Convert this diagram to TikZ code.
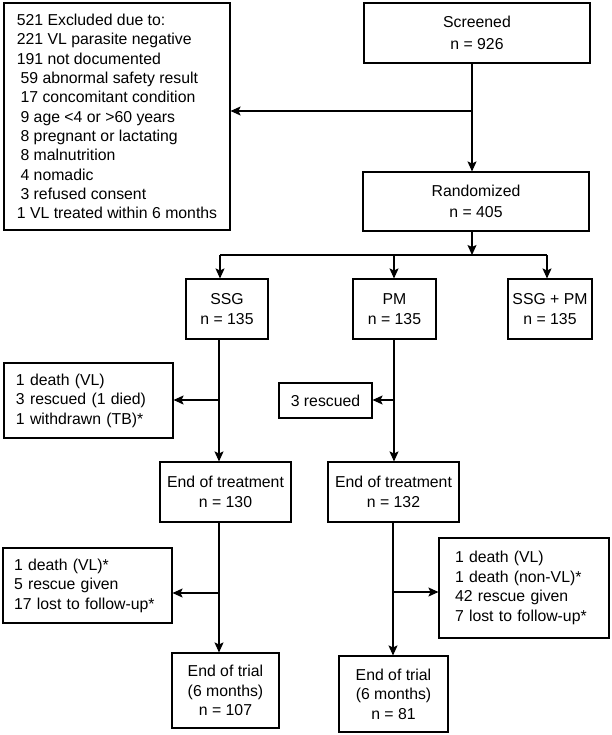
\documentclass[tikz,border=0pt]{standalone}
\usepackage{fontspec}
\setmainfont{Liberation Sans}
\usetikzlibrary{arrows.meta}
\tikzset{
  box/.style={draw=black, line width=1.1pt, inner sep=0pt, align=center,
    font=\fontsize{15.8}{19.5}\selectfont},
  bigbox/.style={box, font=\fontsize{15.8}{21.5}\selectfont},
  lbox/.style={box, align=left},
  arr/.style={line width=1.1pt, -{Stealth[length=10pt,width=9pt,inset=2pt]}},
  ln/.style={line width=1.1pt}
}
\newcommand{\ind}{\hspace*{3.7pt}}
\begin{document}
\begin{tikzpicture}[x=1pt,y=-1pt]
\useasboundingbox (0,0) rectangle (612,735);
% boxes
\node[lbox, minimum width=226pt, minimum height=227pt,
      font=\fontsize{15.8}{19.3}\selectfont] (excl) at (117,116.5)
 {521 Excluded due to:\\221 VL parasite negative\\191 not documented\\\ind 59 abnormal safety result\\\ind 17 concomitant condition\\\ind 9 age <4 or >60 years\\\ind 8 pregnant or lactating\\\ind 8 malnutrition\\\ind 4 nomadic\\\ind 3 refused consent\\1 VL treated within 6 months};
\node[bigbox, minimum width=226pt, minimum height=60pt] (scr) at (477,33) {Screened\\n = 926};
\node[bigbox, minimum width=226pt, minimum height=59pt] (rand) at (476,201.5) {Randomized\\n = 405};
\node[box, minimum width=82pt, minimum height=60pt] (ssg) at (227,309) {SSG\\n = 135};
\node[box, minimum width=83pt, minimum height=60pt] (pm) at (394.5,309) {PM\\n = 135};
\node[box, minimum width=84pt, minimum height=60pt] (ssgpm) at (550,309) {SSG + PM\\n = 135};
\node[lbox, minimum width=169pt, minimum height=75pt, text width=145pt] (out1) at (88.5,400.5)
 {1 death (VL)\\3 rescued (1 died)\\1 withdrawn (TB)*};
\node[box, minimum width=93pt, minimum height=35pt] (resc) at (325.5,400.5) {3 rescued};
\node[box, minimum width=131pt, minimum height=60pt] (eot1) at (225.5,492) {End of treatment\\n = 130};
\node[box, minimum width=131pt, minimum height=60pt] (eot2) at (393.5,492) {End of treatment\\n = 132};
\node[lbox, minimum width=169pt, minimum height=75pt, text width=147pt] (fu1) at (87.5,585.5)
 {1 death (VL)*\\5 rescue given\\17 lost to follow-up*};
\node[lbox, minimum width=170pt, minimum height=100pt, text width=138pt] (fu2) at (524,588)
 {1 death (VL)\\1 death (non-VL)*\\42 rescue given\\7 lost to follow-up*};
\node[box, minimum width=107pt, minimum height=75pt] (trial1) at (225.5,690.5) {End of trial\\(6 months)\\n = 107};
\node[box, minimum width=109pt, minimum height=76pt] (trial2) at (393.5,694) {End of trial\\(6 months)\\n = 81};
% junction coordinates
\coordinate (t0) at (472,0);
\coordinate (j0) at (472,111);
\coordinate (bar) at (472,255);
\coordinate (bL) at (220,255);
\coordinate (bR) at (547,255);
\coordinate (ca) at (219,0);
\coordinate (cb) at (394,0);
\coordinate (cc) at (393,0);
\coordinate (ja) at (219,400);
\coordinate (jb) at (394,400);
\coordinate (jc) at (219,593);
\coordinate (jd) at (393,592);
% connectors
\draw[arr] (scr.south -| t0) -- (rand.north -| t0);
\draw[arr] (j0) -- (excl.east |- j0);
\draw[arr] (rand.south -| t0) -- (bar);
\draw[ln] (bL) -- (bR);
\draw[arr] (bL) -- (ssg.north -| bL);
\draw[arr] (bar -| cb) -- (pm.north -| cb);
\draw[arr] (bR) -- (ssgpm.north -| bR);
\draw[arr] (ssg.south -| ca) -- (eot1.north -| ca);
\draw[arr] (ja) -- (out1.east |- ja);
\draw[arr] (pm.south -| cb) -- (eot2.north -| cb);
\draw[arr] (jb) -- (resc.east |- jb);
\draw[arr] (eot1.south -| ca) -- (trial1.north -| ca);
\draw[arr] (jc) -- (fu1.east |- jc);
\draw[arr] (eot2.south -| cc) -- (trial2.north -| cc);
\draw[arr] (jd) -- (fu2.west |- jd);
\end{tikzpicture}
\end{document}
